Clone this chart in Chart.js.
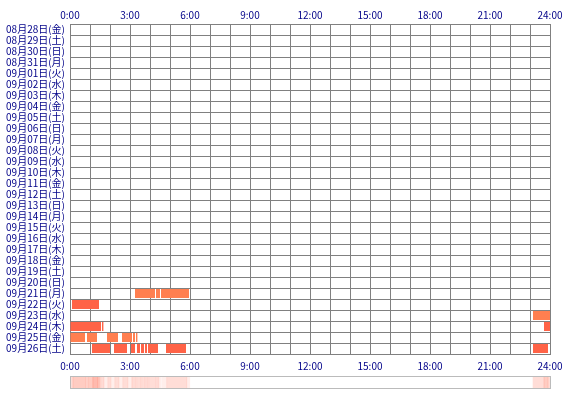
<!DOCTYPE html>
<html>
<head>
<meta charset="UTF-8">
<title>睡眠ログ</title>
<script src="https://cdn.jsdelivr.net/npm/chart.js@4.4.0/dist/chart.umd.min.js"></script>
<style>
  body { margin: 0; background: #fff; }
  #wrap { position: relative; width: 570px; height: 400px; }
  #sleepChart { display: block; }
  #strip {
    position: absolute; left: 70px; top: 376px;
    width: 481px; height: 13px;
    box-sizing: border-box; border: 1px solid #bbb;
  }
  #stripChart { display: block; }
</style>
</head>
<body>
<div id="wrap">
  <canvas id="sleepChart" width="570" height="400"></canvas>
  <div id="strip"><canvas id="stripChart" width="479" height="11"></canvas></div>
</div>

<script>
const days = [
  '08月28日(金)', '08月29日(土)', '08月30日(日)', '08月31日(月)',
  '09月01日(火)', '09月02日(水)', '09月03日(木)', '09月04日(金)',
  '09月05日(土)', '09月06日(日)', '09月07日(月)', '09月08日(火)',
  '09月09日(水)', '09月10日(木)', '09月11日(金)', '09月12日(土)',
  '09月13日(日)', '09月14日(月)', '09月15日(火)', '09月16日(水)',
  '09月17日(木)', '09月18日(金)', '09月19日(土)', '09月20日(日)',
  '09月21日(月)', '09月22日(火)', '09月23日(水)', '09月24日(木)',
  '09月25日(金)', '09月26日(土)'
];
const hourLabels = ['0:00', '3:00', '6:00', '9:00', '12:00', '15:00', '18:00', '21:00', '24:00'];

// sleep segments: row (index into days), start hour, end hour
const segDay   = [24, 24, 24,
                  25,
                  26,
                  27, 27, 27,
                  28, 28, 28, 28, 28, 28,
                  29, 29, 29, 29, 29, 29, 29, 29, 29];
const segStart = [3.25, 4.3, 4.55,
                  0.1,
                  23.15,
                  0, 1.6, 23.7,
                  0, 0.85, 1.85, 2.6, 3.15, 3.3,
                  1.1, 2.2, 3.05, 3.35, 3.55, 3.75, 3.9, 4.8, 23.15];
const segEnd   = [4.25, 4.5, 5.95,
                  1.45,
                  24,
                  1.55, 1.67, 24,
                  0.75, 1.35, 2.4, 3.1, 3.25, 3.37,
                  2.0, 2.85, 3.25, 3.5, 3.7, 3.85, 4.4, 5.8, 23.9];

const CORAL = '#ff7f50';
const TOMATO = '#ff6347';
const GRID = '#808080';
const TEXT = '#000088';
const FONT = { family: "'Noto Sans CJK JP', sans-serif", size: 10 };

const sleepSets = segDay.map((d, i) => ({
    data: [{ x: [segStart[i], segEnd[i]], y: days[d] }],
    backgroundColor: d % 2 === 0 ? CORAL : TOMATO,
    borderWidth: 0,
    grouped: false,
    barPercentage: 9 / 11,
    categoryPercentage: 1
}));

new Chart(document.getElementById('sleepChart'), {
    type: 'bar',
    data: { labels: days, datasets: sleepSets },
    options: {
        indexAxis: 'y',
        responsive: false,
        animation: false,
        layout: { padding: { left: 0, right: 20, top: 0, bottom: 0 } },
        plugins: { legend: { display: false }, tooltip: { enabled: false } },
        scales: {
            x: {
                type: 'linear', position: 'top', min: 0, max: 24, z: 1,
                grid: { color: GRID, drawTicks: false },
                border: { color: GRID },
                ticks: {
                    stepSize: 1, autoSkip: false, maxRotation: 0, padding: 3,
                    color: TEXT, font: FONT,
                    callback: v => v % 3 === 0 ? hourLabels[v / 3] : ''
                },
                afterFit: s => { s.height = 24; }
            },
            x2: {
                axis: 'x', type: 'linear', position: 'bottom', min: 0, max: 24, z: 1,
                grid: { display: false, drawTicks: false },
                border: { color: GRID },
                ticks: {
                    stepSize: 1, autoSkip: false, maxRotation: 0, padding: 6,
                    color: TEXT, font: FONT,
                    callback: v => v % 3 === 0 ? hourLabels[v / 3] : ''
                },
                afterFit: s => { s.height = 46; }
            },
            y: {
                type: 'category', offset: true, z: 1,
                grid: { offset: true, color: GRID, drawTicks: false },
                border: { color: GRID },
                ticks: { autoSkip: false, padding: 5, color: TEXT, font: FONT },
                afterFit: s => { s.width = 70; }
            }
        }
    }
});

// frequency strip: how many nights were asleep at each time of day
const binSize = 0.05;
const counts = [];
for (let b = 0; b < 24 / binSize; b++) {
    const t = (b + 0.5) * binSize;
    let c = 0;
    for (let i = 0; i < segDay.length; i++) {
        if (segStart[i] <= t && t < segEnd[i]) c++;
    }
    counts.push(c);
}
const stripSets = [];
let runStart = 0;
for (let b = 1; b <= counts.length; b++) {
    if (b === counts.length || counts[b] !== counts[runStart]) {
        const c = counts[runStart];
        if (c > 0) {
            stripSets.push({
                data: [{ x: [runStart * binSize, b * binSize], y: 'all' }],
                backgroundColor: 'rgba(255, 99, 71, ' + Math.min(0.11 * c, 0.6) + ')',
                borderWidth: 0,
                grouped: false,
                barPercentage: 1,
                categoryPercentage: 1
            });
        }
        runStart = b;
    }
}

new Chart(document.getElementById('stripChart'), {
    type: 'bar',
    data: { labels: ['all'], datasets: stripSets },
    options: {
        indexAxis: 'y',
        responsive: false,
        animation: false,
        layout: { padding: 0 },
        plugins: { legend: { display: false }, tooltip: { enabled: false } },
        scales: {
            x: { type: 'linear', min: 0, max: 24, display: false },
            y: { type: 'category', display: false }
        }
    }
});
</script>
</body>
</html>
